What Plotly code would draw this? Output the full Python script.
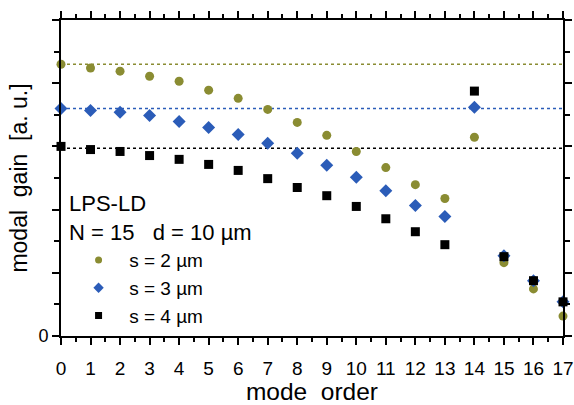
import plotly.graph_objects as go

modes = list(range(18))
s2 = [8.6, 8.48, 8.38, 8.22, 8.06, 7.78, 7.52, 7.17, 6.76, 6.35, 5.84, 5.33, 4.79, 4.35, 6.29, 2.32, 1.49, 0.63]
s3 = [7.2, 7.14, 7.08, 6.98, 6.79, 6.6, 6.38, 6.1, 5.78, 5.4, 5.02, 4.6, 4.13, 3.78, 7.24, 2.54, 1.75, 1.08]
s4 = [6.0, 5.9, 5.84, 5.71, 5.59, 5.43, 5.24, 4.98, 4.7, 4.44, 4.1, 3.71, 3.3, 2.89, 7.75, 2.51, 1.75, 1.08]
levels = [8.6, 7.2, 5.94]
names = ["s = 2 µm", "s = 3 µm", "s = 4 µm"]
colors = ["#8a8c32", "#2b5cb8", "#000000"]
symbols = ["circle", "diamond", "square"]
sizes = [9, 10, 9]
legend_sizes = [7, 8, 7]

fig = go.Figure()
for lv, c in zip(levels, colors):
    fig.add_trace(go.Scatter(x=[0, 17], y=[lv, lv], mode="lines",
                             line=dict(color=c, width=1.5, dash="dot"),
                             showlegend=False, hoverinfo="skip"))
for ys, nm, c, sym, sz, lsz in zip([s2, s3, s4], names, colors, symbols, sizes, legend_sizes):
    fig.add_trace(go.Scatter(x=modes, y=ys, mode="markers", name=nm,
                             marker=dict(color=c, symbol=sym, size=sz),
                             cliponaxis=False, showlegend=False))
    fig.add_trace(go.Scatter(x=[None], y=[None], mode="markers",
                             name="\u00a0\u00a0" + nm,
                             marker=dict(color=c, symbol=sym, size=lsz),
                             showlegend=True))

fig.update_layout(
    width=574, height=405,
    margin=dict(l=61, r=11, t=20, b=69),
    paper_bgcolor="white", plot_bgcolor="white",
    font=dict(family="Liberation Sans, Arial, sans-serif", color="black"),
    showlegend=True,
    legend=dict(x=0.035, y=0.3, xanchor="left", yanchor="top",
                font=dict(size=19), bgcolor="rgba(0,0,0,0)",
                itemwidth=30, tracegroupgap=0),
    annotations=[
        dict(x=0.012, y=0.418, xref="paper", yref="paper", xanchor="left", yanchor="middle",
             text="LPS-LD", showarrow=False, font=dict(size=22)),
        dict(x=0.012, y=0.329, xref="paper", yref="paper", xanchor="left", yanchor="middle",
             text="N = 15   d = 10 µm", showarrow=False, font=dict(size=22)),
    ],
)
fig.update_xaxes(range=[0, 17], tickmode="linear", tick0=0, dtick=1, automargin=False,
                 ticks="outside", ticklen=7, tickwidth=2, tickcolor="black",
                 minor=dict(ticks="outside", ticklen=4, tickwidth=1.5, dtick=0.5, tickcolor="black"),
                 showline=True, linewidth=2, linecolor="black", mirror="ticks",
                 showgrid=False, zeroline=False,
                 tickfont=dict(size=19), ticklabelstandoff=7,
                 title=dict(text="mode  order", font=dict(size=24.5), standoff=15))
fig.update_yaxes(range=[0, 10], tickmode="array", tickvals=[0, 2, 4, 6, 8, 10], ticktext=["0", "", "", "", "", ""],
                 automargin=False,
                 ticks="outside", ticklen=7, tickwidth=2, tickcolor="black",
                 minor=dict(ticks="outside", ticklen=5, tickwidth=1.5, tickvals=[1, 3, 5, 7, 9], tickcolor="black"),
                 showline=True, linewidth=2, linecolor="black", mirror="ticks",
                 showgrid=False, zeroline=False,
                 tickfont=dict(size=18),
                 title=dict(text="modal  gain  [a. u.]", font=dict(size=23), standoff=4))

fig.write_html("out.html")
